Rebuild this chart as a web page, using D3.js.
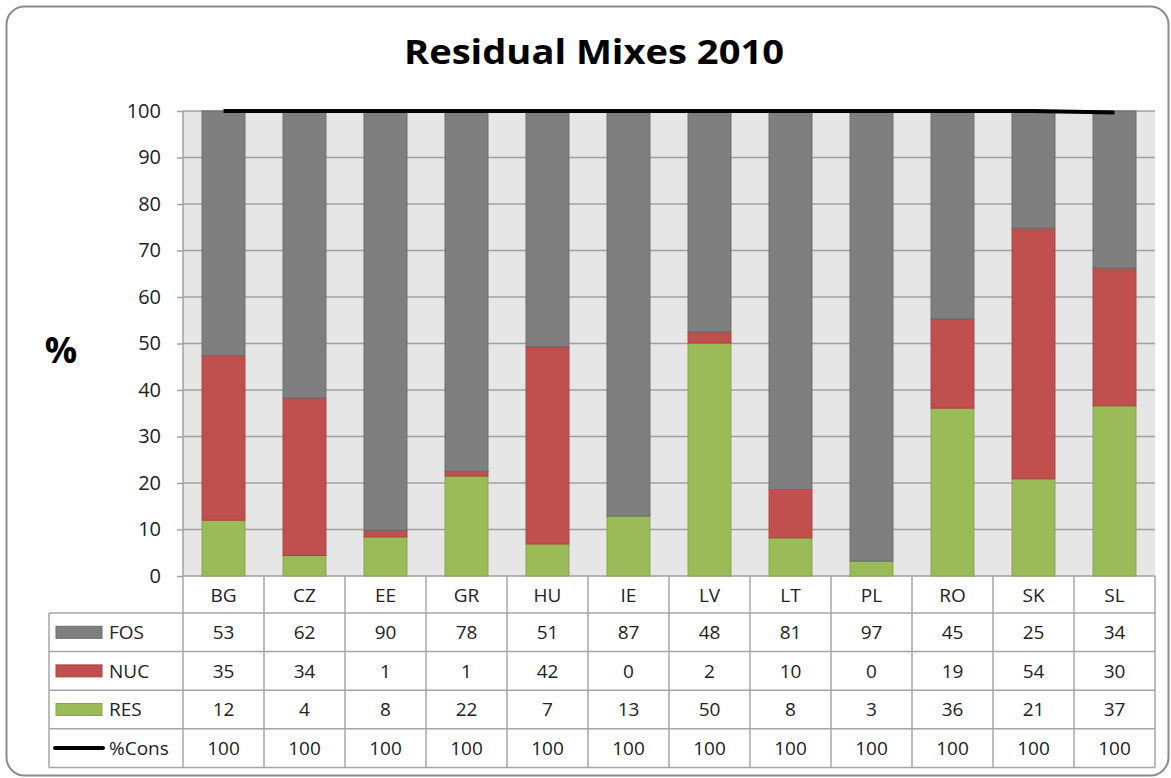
<!DOCTYPE html>
<html>
<head>
<meta charset="utf-8">
<script src="https://cdn.jsdelivr.net/npm/d3@7"></script>
<style>
  body { margin: 0; background: #fff; }
  text { font-family: "Open Sans", "Noto Sans", sans-serif; fill: #222; }
</style>
</head>
<body>
<svg id="chart_svg"></svg>
<script>
var viewWidth = 1171;
var viewHeight = 778;

// data
var countries = ["BG", "CZ", "EE", "GR", "HU", "IE", "LV", "LT", "PL", "RO", "SK", "SL"];
var fos = [52.6, 61.7, 90.2, 77.5, 50.7, 87.1, 47.5, 81.4, 96.8, 44.7, 25.2, 33.8];
var nuc = [35.4, 33.9, 1.4, 1.0, 42.4, 0, 2.4, 10.4, 0, 19.2, 53.9, 29.6];
var res = [12.0, 4.4, 8.4, 21.5, 6.9, 12.9, 50.1, 8.2, 3.2, 36.1, 20.9, 36.6];
var cons = [100, 100, 100, 100, 100, 100, 100, 100, 100, 100, 100, 99.7];
var yTicks = [0, 10, 20, 30, 40, 50, 60, 70, 80, 90, 100];

var seriesColors = {FOS: "#7f7f7f", NUC: "#c0504d", RES: "#9bbb59"};
var seriesStroke = {FOS: "#6b6b6b", NUC: "#a84441", RES: "#86a54a"};

var margin = {top: 111, right: 16, bottom: 202, left: 183};
var width = viewWidth - margin.left - margin.right;
var height = viewHeight - margin.top - margin.bottom;

var svg = d3.select("#chart_svg")
    .attr("width", viewWidth)
    .attr("height", viewHeight);

// outer frame
svg.append("rect")
    .attr("x", 6.5).attr("y", 6.5)
    .attr("width", viewWidth - 9).attr("height", viewHeight - 9)
    .attr("rx", 18).attr("ry", 18)
    .style("fill", "none")
    .style("stroke", "#8c8c8c")
    .style("stroke-width", 2);

svg.append("text")
    .attr("x", 404)
    .attr("y", 64)
    .attr("textLength", 380)
    .attr("lengthAdjust", "spacingAndGlyphs")
    .style("font-size", "34px")
    .style("font-weight", "bold")
    .style("fill", "#000")
    .text("Residual Mixes 2010");

svg.append("text")
    .attr("x", 61)
    .attr("y", 363)
    .style("text-anchor", "middle")
    .style("font-size", "36px")
    .style("font-weight", "bold")
    .style("fill", "#000")
    .text("%");

var g = svg.append("g")
    .attr("transform", "translate(" + margin.left + "," + margin.top + ")");

var x = d3.scaleBand()
    .domain(countries)
    .range([0, width])
    .paddingInner(0.47)
    .paddingOuter(0.235);

var xCell = d3.scaleBand()
    .domain(countries)
    .range([0, width]);

var y = d3.scaleLinear()
    .domain([0, 100])
    .range([height, 0]);

// plot background
g.append("rect")
    .attr("width", width)
    .attr("height", height)
    .style("fill", "#e6e6e6");

// gridlines + y axis
var yAxis = d3.axisLeft(y)
    .tickValues(yTicks)
    .tickSize(6)
    .tickPadding(16);

var yG = g.append("g")
    .attr("class", "y axis")
    .call(yAxis);
yG.select(".domain").remove();
yG.selectAll(".tick line").style("stroke", "#a0a0a0").style("stroke-width", 1.5);
yG.selectAll(".tick text")
    .style("font-size", "20px")
    .style("fill", "#222")
    .style("font-family", "'Open Sans', sans-serif");

g.selectAll(".grid")
    .data(yTicks)
  .enter().append("line")
    .attr("class", "grid")
    .attr("x1", 0)
    .attr("x2", width)
    .attr("y1", function(d) { return y(d); })
    .attr("y2", function(d) { return y(d); })
    .style("stroke", "#a0a0a0")
    .style("stroke-width", 1.5);

g.append("line")
    .attr("x1", 0).attr("x2", 0)
    .attr("y1", 0).attr("y2", height)
    .style("stroke", "#a0a0a0")
    .style("stroke-width", 1.5);

// stacked bars
var rows = countries.map(function(c, i) {
  return {country: c, RES: res[i], NUC: nuc[i], FOS: fos[i]};
});
var stack = d3.stack().keys(["RES", "NUC", "FOS"]);
var layers = stack(rows);

g.selectAll(".layer")
    .data(layers)
  .enter().append("g")
    .attr("class", "layer")
    .style("fill", function(d) { return seriesColors[d.key]; })
    .style("stroke", function(d) { return seriesStroke[d.key]; })
    .style("stroke-width", 1)
  .selectAll("rect")
    .data(function(d) { return d.filter(function(p) { return p[1] - p[0] > 0; }); })
  .enter().append("rect")
    .attr("x", function(d) { return x(d.data.country); })
    .attr("width", x.bandwidth())
    .attr("y", function(d) { return y(d[1]); })
    .attr("height", function(d) { return y(d[0]) - y(d[1]); });

// %Cons line
var line = d3.line()
    .x(function(d, i) { return xCell(countries[i]) + xCell.bandwidth() / 2; })
    .y(function(d) { return y(d); });

g.append("path")
    .datum(cons)
    .attr("d", line)
    .style("fill", "none")
    .style("stroke", "#000")
    .style("stroke-width", 4);

// data table
var headerH = 37;
var rowH = 38.6;
var legendLeft = 49 - margin.left;
var tableRows = [
  {name: "FOS", values: fos, type: "bar"},
  {name: "NUC", values: nuc, type: "bar"},
  {name: "RES", values: res, type: "bar"},
  {name: "%Cons", values: cons, type: "line"}
];

var table = g.append("g")
    .attr("transform", "translate(0," + height + ")");

var gridColor = "#a6a6a6";

// header labels
table.selectAll(".cat")
    .data(countries)
  .enter().append("text")
    .attr("class", "cat")
    .attr("x", function(d) { return xCell(d) + xCell.bandwidth() / 2; })
    .attr("y", headerH / 2 + 7)
    .style("text-anchor", "middle")
    .style("font-size", "19px")
    .text(function(d) { return d; });

// horizontal table lines
var hLines = d3.range(tableRows.length + 1).map(function(i) { return headerH + i * rowH; });
table.selectAll(".hline")
    .data(hLines)
  .enter().append("line")
    .attr("x1", legendLeft)
    .attr("x2", width)
    .attr("y1", function(d) { return d; })
    .attr("y2", function(d) { return d; })
    .style("stroke", gridColor)
    .style("stroke-width", 1.5);

// vertical table lines
var vLines = countries.map(function(c) { return xCell(c); }).concat([width]);
table.selectAll(".vline")
    .data(vLines)
  .enter().append("line")
    .attr("x1", function(d) { return d; })
    .attr("x2", function(d) { return d; })
    .attr("y1", 0)
    .attr("y2", headerH + tableRows.length * rowH)
    .style("stroke", gridColor)
    .style("stroke-width", 1.5);

table.append("line")
    .attr("x1", legendLeft).attr("x2", legendLeft)
    .attr("y1", headerH)
    .attr("y2", headerH + tableRows.length * rowH)
    .style("stroke", gridColor)
    .style("stroke-width", 1.5);

var rowG = table.selectAll(".trow")
    .data(tableRows)
  .enter().append("g")
    .attr("class", "trow")
    .attr("transform", function(d, i) { return "translate(0," + (headerH + i * rowH) + ")"; });

rowG.each(function(d) {
  var r = d3.select(this);
  if (d.type == "bar") {
    r.append("rect")
      .attr("x", legendLeft + 7)
      .attr("y", rowH / 2 - 6)
      .attr("width", 46)
      .attr("height", 12)
      .style("fill", seriesColors[d.name])
      .style("stroke", seriesStroke[d.name]);
  } else {
    r.append("line")
      .attr("x1", legendLeft + 6)
      .attr("x2", legendLeft + 54)
      .attr("y1", rowH / 2)
      .attr("y2", rowH / 2)
      .style("stroke", "#000")
      .style("stroke-width", 4)
      .style("stroke-linecap", "round");
  }
  r.append("text")
    .attr("x", legendLeft + 60)
    .attr("y", rowH / 2 + 7)
    .style("font-size", "19px")
    .text(d.name);

  r.selectAll(".val")
    .data(d.values)
  .enter().append("text")
    .attr("class", "val")
    .attr("x", function(v, i) { return xCell(countries[i]) + xCell.bandwidth() / 2; })
    .attr("y", rowH / 2 + 7)
    .style("text-anchor", "middle")
    .style("font-size", "19px")
    .text(function(v) { return Math.round(v); });
});
</script>
</body>
</html>
